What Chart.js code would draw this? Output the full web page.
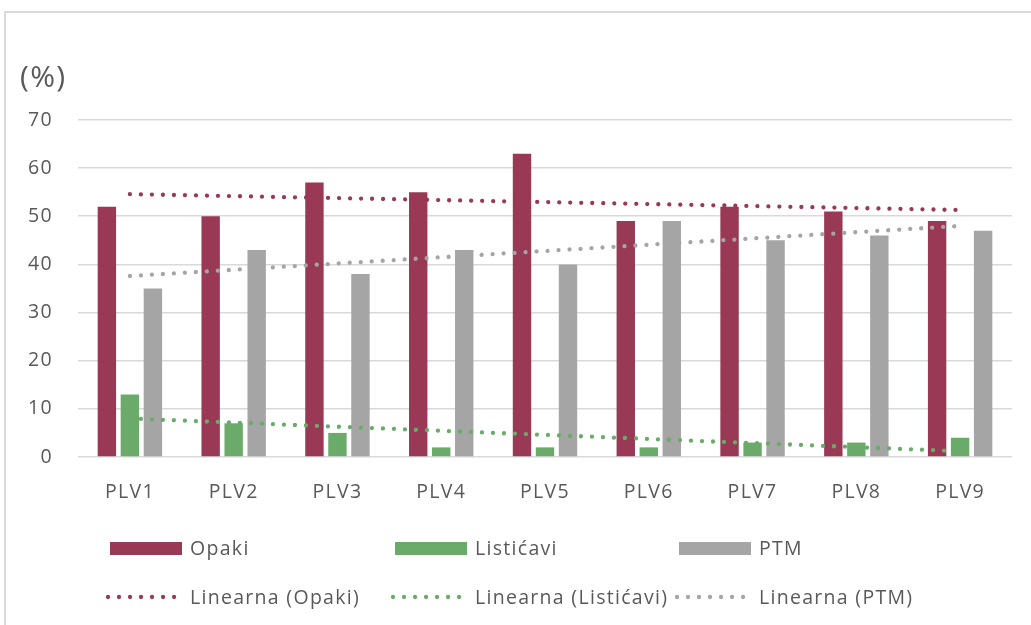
<!DOCTYPE html>
<html>
<head>
<meta charset="utf-8">
<script src="https://cdn.jsdelivr.net/npm/chart.js@4.4.1/dist/chart.umd.min.js"></script>
<style>
  html, body { margin: 0; padding: 0; background: #fff; }
  #wrap { position: relative; width: 1031px; height: 625px; overflow: hidden; }
  #frame { position: absolute; left: 4px; top: 11px; width: 1100px; height: 700px;
           border-top: 2px solid #d9d9d9; border-left: 2px solid #d9d9d9; }
  canvas { position: absolute; left: 0; top: 0; }
</style>
</head>
<body>
<div id="wrap">
  <div id="frame"></div>
  <canvas id="chart" width="1031" height="625"></canvas>
</div>
<script>
// kategorije i serije
const categories = ['PLV1', 'PLV2', 'PLV3', 'PLV4', 'PLV5', 'PLV6', 'PLV7', 'PLV8', 'PLV9'];
const seriesNames = ['Opaki', 'Listićavi', 'PTM'];
const opaki = [52, 50, 57, 55, 63, 49, 52, 51, 49];
const listicavi = [13, 7, 5, 2, 2, 2, 3, 3, 4];
const ptm = [35, 43, 38, 43, 40, 49, 45, 46, 47];

// linearni trend: vrijednosti na PLV1 i PLV9 očitane sa slike
const trendOpaki = [54.6, 51.3];
const trendListicavi = [8.0, 1.2];
const trendPtm = [37.6, 48.0];

const yTicks = [0, 10, 20, 30, 40, 50, 60, 70];
const yUnit = '(%)';

const colors = ['#993955', '#6aab6a', '#a5a5a5'];
const textColor = '#595959';
const font = "'Open Sans', 'DejaVu Sans', sans-serif";
const spacing = '1.3px';

function trendData(ends) {
    return categories.map((c, i) => i === 0 ? ends[0] : (i === categories.length - 1 ? ends[1] : null));
}

const bars = [opaki, listicavi, ptm].map((d, i) => ({
    type: 'bar',
    label: seriesNames[i],
    data: d,
    backgroundColor: colors[i],
    categoryPercentage: 0.665,
    barPercentage: 0.8,
    order: 2
}));

const trends = [trendOpaki, trendListicavi, trendPtm].map((t, i) => ({
    type: 'line',
    label: 'Linearna (' + seriesNames[i] + ')',
    data: trendData(t),
    borderColor: colors[i],
    borderWidth: 4.3,
    borderDash: [0.01, 11],
    borderCapStyle: 'round',
    pointRadius: 0,
    spanGaps: true,
    fill: false,
    order: 1
}));

// razmak slova (Excel tekst je širi)
const letterSpacing = {
    id: 'letterSpacing',
    beforeDraw(chart) { chart.ctx.letterSpacing = spacing; }
};

// legenda i jedinica na platnu
const extras = {
    id: 'extras',
    afterDraw(chart) {
        const ctx = chart.ctx;
        ctx.save();
        ctx.letterSpacing = spacing;
        ctx.fillStyle = textColor;
        ctx.font = '30px ' + font;
        ctx.textBaseline = 'alphabetic';
        ctx.fillText(yUnit, 20, 87);

        const cols = [110, 395, 679];
        const rows = [548, 597];
        ctx.font = '19.5px ' + font;
        ctx.textBaseline = 'middle';
        seriesNames.forEach((name, i) => {
            ctx.fillStyle = colors[i];
            ctx.fillRect(cols[i], rows[0] - 6, 72, 13);
            ctx.fillStyle = textColor;
            ctx.fillText(name, cols[i] + 80, rows[0] + 1);

            ctx.strokeStyle = colors[i];
            ctx.lineWidth = 4.3;
            ctx.lineCap = 'round';
            ctx.setLineDash([0.01, 11]);
            ctx.beginPath();
            ctx.moveTo(cols[i] - 2, rows[1]);
            ctx.lineTo(cols[i] + 70, rows[1]);
            ctx.stroke();
            ctx.setLineDash([]);
            ctx.fillText(trends[i].label, cols[i] + 80, rows[1] + 1);
        });
        ctx.restore();
    }
};

new Chart(document.getElementById('chart'), {
    data: {
        labels: categories,
        datasets: [...bars, ...trends]
    },
    options: {
        responsive: false,
        animation: false,
        layout: { padding: { left: 0, right: 19, top: 120, bottom: 0 } },
        plugins: {
            legend: { display: false },
            tooltip: { enabled: false }
        },
        scales: {
            x: {
                grid: { display: false, drawTicks: false },
                border: { display: false },
                ticks: { color: textColor, font: { family: font, size: 19.5 }, padding: 24 },
                afterFit(scale) { scale.height = 168; }
            },
            y: {
                min: 0,
                max: 70,
                afterBuildTicks(scale) { scale.ticks = yTicks.map(v => ({ value: v })); },
                grid: { color: '#d9d9d9', lineWidth: 1.6, drawTicks: false },
                border: { display: false },
                ticks: { color: textColor, font: { family: font, size: 19.5 }, padding: 25 },
                afterFit(scale) { scale.width = 78; }
            }
        }
    },
    plugins: [letterSpacing, extras]
});
</script>
</body>
</html>
